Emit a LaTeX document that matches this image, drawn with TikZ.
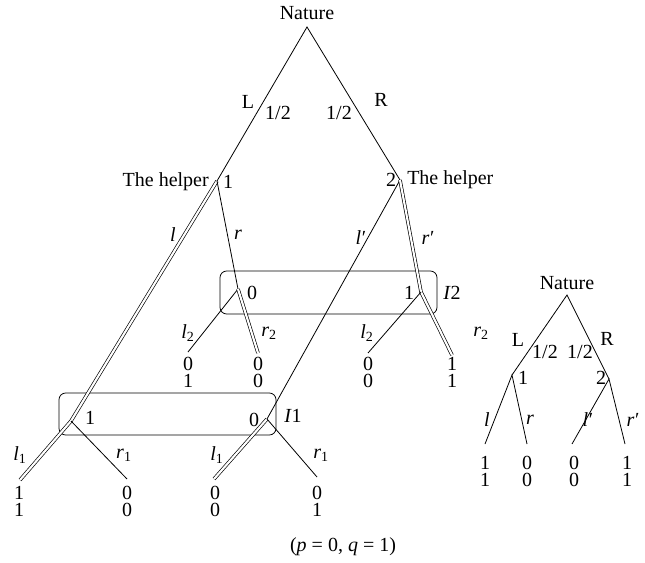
\documentclass[tikz,border=0pt]{standalone}
\usepackage{fontspec}
\setmainfont{Liberation Serif}
\newcommand{\ilab}[1]{\textit{#1}}
\newcommand{\isub}[2]{\textit{#1}\textsubscript{#2}}
\newcommand{\iprime}[1]{\textit{#1}\kern0.5pt′}
\begin{document}
\begin{tikzpicture}[x=0.75pt,y=-0.75pt,
  edge/.style={line width=0.6pt},
  dbl/.style={double, double distance=1.6pt, line width=0.5pt, line join=miter},
  lbl/.style={font=\fontsize{15}{12.6}\selectfont, inner sep=0pt},
  leafnum/.style={lbl, align=center, anchor=north},
  infobox/.style={draw, rounded corners=5pt, line width=0.6pt, inner sep=0pt}]
\useasboundingbox (0,0) rectangle (645,563);

% ---------- main tree: decision points ----------
\coordinate (nat) at (307,27);
\coordinate (h1) at (217,181);
\coordinate (h2) at (400,180);
\coordinate (c0) at (238,289);
\coordinate (d1) at (421,292);
\coordinate (e1) at (71,421);
\coordinate (f0) at (267,419);
% leaves
\coordinate (c0l) at (188,352);
\coordinate (c0r) at (258,353);
\coordinate (d1l) at (368,353);
\coordinate (d1r) at (452,355);
\coordinate (e1l) at (20,480);
\coordinate (e1r) at (127,479);
\coordinate (f0l) at (214,479);
\coordinate (f0r) at (317,477);

% information sets
\node[infobox, minimum width=162.75pt, minimum height=32.25pt] (I2box) at (328.5,292.5) {};
\node[infobox, minimum width=162.75pt, minimum height=31.5pt] (I1box) at (167.5,414) {};

% edges
\draw[edge] (h1) -- (nat) -- (h2);
\draw[dbl] (h1) -- (e1) -- (e1l);
\draw[edge] (h1) -- (c0);
\draw[edge] (h2) -- (f0);
\draw[dbl] (h2) -- (d1) -- (d1r);
\draw[edge] (c0) -- (c0l);
\draw[dbl] (c0) -- (c0r);
\draw[edge] (d1) -- (d1l);
\draw[edge] (e1) -- (e1r);
\draw[dbl] (f0) -- (f0l);
\draw[edge] (f0) -- (f0r);

% labels
\node[lbl] (tNat) at (307,13) {Nature};
\node[lbl] (tL) at (248,102) {L};
\node[lbl] (tLp) at (278,113) {1/2};
\node[lbl] (tRp) at (339,113) {1/2};
\node[lbl] (tR) at (381,100) {R};
\node[lbl, anchor=east] (th1) at (209,182) {The helper};
\node[lbl] (tn1) at (228,182) {1};
\node[lbl] (tn2) at (391,180) {2};
\node[lbl, anchor=west] (th2) at (407,180) {The helper};
\node[lbl] (tl) at (173,235) {\ilab{l}};
\node[lbl] (tr) at (238,235) {\ilab{r}};
\node[lbl] (tlp) at (361,238) {\iprime{l}};
\node[lbl] (trp) at (428,238) {\iprime{r}};
\node[lbl] (tc0) at (252,293) {0};
\node[lbl] (td1) at (409,293) {1};
\node[lbl] (tI2) at (452,293) {\textit{I}2};
\node[lbl] (tl2a) at (188,333) {\isub{l}{2}};
\node[lbl] (tr2a) at (269,333) {\isub{r}{2}};
\node[lbl] (tl2b) at (367,333) {\isub{l}{2}};
\node[lbl] (tr2b) at (481,333) {\isub{r}{2}};
\node[lbl] (te1) at (90,418) {1};
\node[lbl] (tf0) at (254,420) {0};
\node[lbl] (tI1) at (293,416) {\textit{I}1};
\node[lbl] (tl1a) at (20,455) {\isub{l}{1}};
\node[lbl] (tr1a) at (124,455) {\isub{r}{1}};
\node[lbl] (tl1b) at (217,455) {\isub{l}{1}};
\node[lbl] (tr1b) at (321,455) {\isub{r}{1}};
% payoffs
\node[leafnum] (p1) at (188,357) {0\\1};
\node[leafnum] (p2) at (258,357) {0\\0};
\node[leafnum] (p3) at (368,357) {0\\0};
\node[leafnum] (p4) at (452,357) {1\\1};
\node[leafnum] (p5) at (19,486) {1\\1};
\node[leafnum] (p6) at (127,486) {0\\0};
\node[leafnum] (p7) at (215,486) {0\\0};
\node[leafnum] (p8) at (317,486) {0\\1};
\node[lbl] (cap) at (343,547) {(\textit{p} = 0, \textit{q} = 1)};

% ---------- small tree ----------
\coordinate (snat) at (567,295);
\coordinate (s1) at (512,375);
\coordinate (s2) at (609,379);
\coordinate (s1l) at (485,444);
\coordinate (s1r) at (527,444);
\coordinate (s2l) at (572,444);
\coordinate (s2r) at (625,444);
\draw[edge] (s1) -- (snat) -- (s2);
\draw[edge] (s1l) -- (s1) -- (s1r);
\draw[edge] (s2l) -- (s2) -- (s2r);
\node[lbl] (stNat) at (567,283) {Nature};
\node[lbl] (stL) at (518,340) {L};
\node[lbl] (stLp) at (545,352) {1/2};
\node[lbl] (stRp) at (580,352) {1/2};
\node[lbl] (stR) at (607,339) {R};
\node[lbl] (st1) at (523,378) {1};
\node[lbl] (st2) at (601,378) {2};
\node[lbl] (stl) at (487,420) {\ilab{l}};
\node[lbl] (str) at (530,420) {\ilab{r}};
\node[lbl] (stlp) at (588,420) {\iprime{l}};
\node[lbl] (strp) at (633,420) {\iprime{r}};
\node[leafnum] (sp1) at (485,456) {1\\1};
\node[leafnum] (sp2) at (527,456) {0\\0};
\node[leafnum] (sp3) at (574,456) {0\\0};
\node[leafnum] (sp4) at (627,456) {1\\1};
\end{tikzpicture}
\end{document}
